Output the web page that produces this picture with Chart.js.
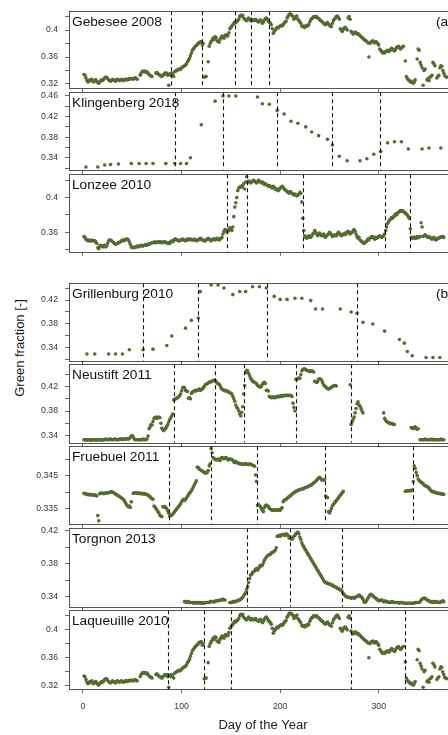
<!DOCTYPE html>
<html>
<head>
<meta charset="utf-8">
<script src="https://cdn.jsdelivr.net/npm/chart.js@4/dist/chart.umd.min.js"></script>
<style>
  html, body { margin: 0; padding: 0; background: #fff; width: 448px; height: 735px; overflow: hidden; position: relative; }
  canvas { position: absolute; left: 0; }
  #ylab { position: absolute; left: 19px; top: 348px; transform: translate(-50%, -50%) rotate(-90deg);
          font: 13px "Liberation Sans", Arial, Helvetica, sans-serif; color: #222; white-space: nowrap; }
</style>
</head>
<body>
<div id="ylab">Green fraction [-]</div>
<script>
// ---- shared x axis ----
const dayTicks = [0, 100, 200, 300];

// ---- Gebesee 2008 (daily green fraction, runs of [first day, values]) ----
const gebeseeRuns = [[1, [
  .334,.333,.329,.325,.323,.324,.326,.325,.327,.324,
  .323,.325,.326,.324,.322,.321,.323,.325,.326,.325,
  .327,.329,.330,.330,.328,.326,.325,.324,.325,.327,
  .326,.325,.324,.326,.327,.326,.325,.326,.327,.326,
  .325,.326,.327,.327,.326,.327,.328,.327,.328,.328,
  .327,.328,.329,.328,.327,null,null,.333,.336,.338,
  .339,.338,.339,.337,.338,.336,.334,.333,.332,.331,
  null,null,null,.336,.337,.335,.334,.333,.332,.331,
  .333,.334,.336,.335,.336,.333,.318,.335,.333,.336,
  .334,.331,.338,.339,.340,.341,.342,.341,.342,.344,
  .345,.346,.347,.348,.350,.353,.355,.358,.362,.366,
  .370,.372,.374,.376,.377,.379,.380,.382,.382,.383,
  .378,.380,.330,.331,.331,null,.353,.376,.380,.383,
  .385,.388,.386,.390,.389,.384,.383,.382,.386,.389,
  .391,.390,.388,.392,.393,.391,.392,.396,.402,.404,
  .406,.408,.410,.412,.411,.413,.414,.416,.420,.422,
  .421,.422,.418,.416,.415,.414,.416,.418,.416,.414,
  .416,.415,.414,.415,.416,.414,.413,.412,.414,.415,
  .413,.410,.412,.415,.417,.418,.416,.413,.412,.410,
  .408,.402,.395,.398,.400,.402,.404,.403,.405,.406,
  .407,.406,.408,.410,.412,.413,.418,.420,.423,.424,
  .423,.422,.420,.416,.418,.420,.421,.416,.414,.412,
  .410,.406,.405,.406,.404,.405,.407,.406,.408,.412,
  .415,.417,.418,.420,.420,.419,.420,.418,.417,.416,
  .414,.413,.412,.410,.409,.408,.410,.411,.409,.407,
  .406,.405,.410,.414,.416,.418,.420,.421,.419,.416,
  .402,.400,.398,.401,.403,.404,.402,.400,.418,.420,
  .416,.398,.396,.394,.395,.397,.396,.394,.395,.393,
  .392,.390,.389,.388,.386,.385,.384,.383,.381,.360,
  .380,.382,.383,.384,.382,.381,.383,.382,.380,.378,
  .372,.370,.368,.366,.367,.366,.368,.369,.370,.368,
  .369,.371,.373,.372,.370,.369,.371,.374,.375,.376,
  .374,.372,.373,.375,.376,null,.354,.331,.328,.326,
  .325,.323,.324,.322,.321,.323,.326,null,.357,.372,
  .370,.352,.348,.344,.318,.340,.342,null,.326,.328,
  .325,.330,.331,.333,.352,.350,.347,null,.329,.331,
  .333,.344,.347,.346,.340,.336,.332,.331,.330
]]];
const gebeseeBreaks = [89, 121, 154, 170, 189];
const gebeseeTicks = [0.32, 0.34, 0.36, 0.38, 0.40, 0.42];
const gebeseeTickLabels = ['0.32', '', '0.36', '', '0.4', ''];

// ---- Klingenberg 2018 (sparse observations) ----
const klingenbergDays = [3,15,22,28,36,49,57,64,71,84,93,99,105,109,120,134,142,148,155,177,
  182,189,197,204,211,218,226,232,239,248,253,260,268,281,288,295,302,309,316,323,330,344,351,363];
const klingenbergGf = [.322,.322,.326,.327,.328,.329,.329,.329,.329,.329,.329,.329,.329,.340,.404,
  .450,.460,.460,.460,.458,.445,.444,.432,.425,.411,.407,.400,.390,.383,.376,.365,.343,.334,.334,
  .338,.347,.352,.369,.371,.371,.357,.357,.359,.359];
const klingenbergBreaks = [93, 142, 197, 253, 301];
const klingenbergTicks = [0.32, 0.34, 0.36, 0.38, 0.40, 0.42, 0.44, 0.46];
const klingenbergTickLabels = ['', '0.34', '', '0.38', '', '0.42', '', '0.46'];

// ---- Lonzee 2010 ----
const lonzeeRuns = [[1, [
  .355,.354,.352,.351,.350,.351,.350,.350,.351,.350,
  .350,.350,.349,.347,.342,.341,.344,.345,.344,.343,
  .344,.345,.343,.344,.347,.350,.351,.351,.350,.349,
  .348,.347,.346,.347,.347,.348,.348,.349,.350,.351,
  .350,.351,.351,.352,.352,.351,.349,.346,.343,.342,
  .343,.342,.343,.343,.344,.343,.344,.344,.345,.344,
  .344,.345,.345,.346,.345,.346,.346,.347,.347,.348,
  .348,.348,.349,.348,.348,.349,.349,.348,.349,.348,
  .348,.349,.349,.348,.348,.347,.348,.347,.349,.350,
  .349,.350,.352,.352,.351,.351,.350,.350,.351,.351,
  .352,.351,.351,.350,.351,.352,.351,.352,.352,.351,
  .351,.351,.352,.351,.350,.351,.351,.352,.353,.352,
  .351,.351,.350,.350,.351,.352,.353,.352,.351,.350,
  .351,.352,.352,.351,.352,.353,.352,.351,.352,.353,
  .354,.358,.361,.363,.362,.360,.361,.363,.365,.364,
  .362,.366,.378,.389,.394,.400,.408,.411,.412,.413,
  .412,.414,.416,.410,.418,.424,.418,.419,.418,.417,
  .418,.419,.420,.419,.418,.417,.418,.420,.419,.418,
  .417,.418,.417,.415,.416,.415,.414,.413,.414,.413,
  .412,.411,.413,.412,.410,.409,.410,.408,.409,.411,
  .412,.413,.412,.410,.409,.408,.407,.406,.405,.407,
  .406,.405,.404,.403,.404,.403,.402,.403,.404,.406,
  .405,.395,.376,.362,.356,.354,.353,.354,.356,.355,
  .354,.356,.358,.359,.362,.360,.358,.356,.357,.359,
  .357,.356,.357,.358,.355,.354,.356,.357,.358,.360,
  .359,.357,.355,.356,.357,.356,.356,.358,.360,.359,
  .357,.356,.357,.358,.357,.359,.358,.360,.361,.360,
  .358,.359,.360,.362,.363,.361,.358,.355,.353,.354,
  .351,.350,.349,.348,.347,.348,.349,.350,.352,.351,
  .353,.354,.355,.355,.353,.352,.354,.353,.354,.355,
  .356,.355,.354,.355,.356,.358,.362,.366,.370,.372,
  .374,.375,.377,.376,.378,.379,.381,.380,.382,.383,
  .384,.385,.384,.385,.384,.383,.382,.381,.380,.378,
  .376,.364,.354,.353,.354,.353,.354,.353,.355,.354,
  .354,.355,.371,.366,.355,.356,.357,.356,.355,.354,
  .355,.354,.353,.352,.353,.354,.352,.351,.352,.353,
  .353,.354,.354,.355,.355,.354
]]];
const lonzeeBreaks = [146, 166, 223, 306, 332];
const lonzeeTicks = [0.34, 0.36, 0.38, 0.40, 0.42];
const lonzeeTickLabels = ['', '0.36', '', '0.4', ''];

// ---- Grillenburg 2010 (sparse observations) ----
const grillenburgDays = [4,12,26,33,40,47,61,71,85,90,104,110,117,119,130,137,143,152,159,165,
  172,179,186,194,200,207,215,222,231,236,243,261,272,278,284,294,306,321,326,329,334,348,355,362];
const grillenburgGf = [.330,.330,.330,.330,.330,.337,.337,.338,.344,.360,.373,.386,.390,.434,.445,
  .445,.440,.429,.434,.434,.442,.442,.440,.426,.421,.421,.423,.423,.419,.405,.405,.405,.400,.398,
  .383,.380,.368,.354,.348,.334,.327,.324,.324,.324];
const grillenburgBreaks = [61, 117, 187, 278];
const grillenburgTicks = [0.32, 0.34, 0.36, 0.38, 0.40, 0.42, 0.44];
const grillenburgTickLabels = ['', '0.34', '', '0.38', '', '0.42', ''];

// ---- Neustift 2011 ----
const neustiftRuns = [[1, [
  .333,.333,.333,.332,.333,.333,.333,.332,.332,.333,
  .333,.333,.332,.332,.333,.333,.333,.333,.332,.333,
  .333,.333,.334,.333,.333,.333,.334,.334,.333,.333,
  .333,.334,.334,.333,.333,.333,.334,.334,.334,.333,
  .334,.334,.334,.334,.335,.334,.335,.337,.339,.340,
  .337,.334,.333,.333,.333,.333,.333,.333,.333,.333,
  .334,.333,.333,.334,.334,.339,.351,.354,.358,.357,
  .363,.368,.369,.370,.368,.369,.370,.369,.360,.352,
  .349,.348,.350,.352,.355,.358,.362,.366,.369,.372,
  .375,.398,.399,.400,.401,.402,.403,.405,.408,.413,
  .418,.419,.418,.414,.413,.412,.401,.402,.400,.409,
  .411,.412,.413,.414,.413,.414,.415,.416,.414,.415,
  .416,.418,.420,.423,.424,.425,.426,.427,.428,.428,
  .429,.430,.431,.430,.428,.426,.425,.424,.422,.418,
  .416,.415,.414,.413,.414,.413,.412,.411,.410,.409,
  .408,.404,.400,.396,.390,.386,.384,.380,.375,.372,
  .378,.387,.408,.422,.443,.447,.446,.442,.438,.434,
  .432,.429,.428,.427,.426,.425,.422,.421,.420,.419,
  .421,.424,.426,.427,.425,.414,.414,.413,.404,.403,
  .402,.403,.402,.403,.402,.403,.404,.403,.404,.404,
  .405,.404,.405,.406,.405,.406,.406,.405,.406,.406,
  .405,.404,.393,.386,.380,.432,.432,.433,.434,.434,
  .440,.446,.448,.449,.449,.448,.447,.446,.446,.445,
  .445,.446,.445,.444,.429,.428,.427,.428,.432,.433,
  .432,.431,.427,.423,.421,.420,.418,.417,.416,.417,
  .418,.419,.420,.421,.422,.422,.421
]], [271, [
  .423,.358,.362,.366,.370,.377,.384,.392,.395,.390,
  .388,.384,.380,.377
]], [305, [
  .377,.368,.365,.363,.362,.361,.360,.359,.360,.359,.358,.358
]], [333, [
  .353,.352,.351,.353,.354,.352,.350,.351
]], [342, [
  .333,.333,.333,.333,.333,.334,.333,.333,.333,
  .333,.333,.333,.334,.333,.333,.333,.333,.333,.333,
  .333,.333,.334,.333,.333,.333
]]];
const neustiftBreaks = [92, 134, 163, 216, 272];
const neustiftTicks = [0.34, 0.36, 0.38, 0.40, 0.42, 0.44];
const neustiftTickLabels = ['0.34', '', '0.38', '', '0.42', ''];

// ---- Fruebuel 2011 ----
const fruebuelRuns = [[1, [
  .3396,.3395,.3394,.3393,.3392,.3393,.3392,.3391,.3392,.3391,
  .3390,.3391,.3390,.3388,.3328,.3312,.3395,.3396,.3397,.3396,
  .3395,.3396,.3397,.3398,.3397,.3398,.3399,.3400,.3401,.3400,
  .3398,.3396,.3394,.3392,.3390,.3388,.3386,.3384,.3382,.3380,
  .3377,.3373,.3368,.3362,.3358,.3355,.3357,.3353,.3370,null,
  .3396,.3397,.3398,.3397,.3396,.3397,.3396,.3395,.3396,.3395,
  .3394,.3395,.3394,.3393,.3392,.3390,.3388,.3386,.3382,.3380,
  .3378,.3357,.3354,.3350,.3346,.3340,.3336,.3330,.3326,.3325,
  .3355,.3354,.3356,.3352,.3349,.3342,.3335,.3326,.3328,.3330,
  .3332,.3336,.3340,.3344,.3348,.3352,.3356,.3360,.3364,.3370,
  .3375,.3378,.3374,.3378,.3382,.3387,.3392,.3396,.3400,.3404,
  .3410,.3416,.3422,.3428,.3434,.3476,.3474,.3470,.3468,.3466,
  .3464,.3462,.3460,.3458,.3458,.3460,.3466,.3480,.3486,.3533,
  .3520,.3505,.3502,.3500,.3498,.3499,.3501,.3498,.3496,.3504,
  .3505,.3503,.3502,.3504,.3505,.3503,.3498,.3500,.3501,.3500,
  .3499,.3497,.3492,.3490,.3494,.3490,.3489,.3488,.3486,.3487,
  .3486,.3485,.3484,.3486,.3487,.3485,.3484,.3484,.3486,.3485,
  .3483,.3482,.3481,.3479,.3452,.3432,.3359,.3362,.3358,.3356,
  .3350,.3344,.3340,.3352,.3358,.3360,.3358,.3356,.3350,.3348,
  .3346,.3344,.3345,.3344,.3346,.3345,.3344,.3346,.3345,.3344,
  .3350,.3352,.3370,.3375,.3376,.3378,.3380,.3383,.3386,.3388,
  .3390,.3393,.3396,.3398,.3400,.3402,.3403,.3405,.3406,.3407,
  .3408,.3409,.3410,.3411,.3413,.3414,.3415,.3416,.3418,.3420,
  .3421,.3422,.3425,.3428,.3430,.3433,.3436,.3440,.3443,.3445,
  .3442,.3438,.3436,.3437,.3438,.3388,.3385,.3383,.3340,.3336,
  .3342,.3350,.3358,.3362,.3366,.3370,.3374,.3378,.3382,.3386,
  .3390,.3394,.3398,.3402
]], [327, [
  .3402,.3403,.3404,.3403,
  .3404,.3405,.3404,.3406,.3432,.3480,.3472,.3460,.3450,.3440,
  .3436,.3432,.3430,.3428,.3425,.3422,.3420,.3418,.3416,.3415,
  .3412,.3408,.3404,.3402,.3401,.3400,.3399,.3398,.3397,.3396,
  .3396,.3395,.3395,.3394,.3394,.3393
]]];
const fruebuelBreaks = [87, 130, 177, 245, 335];
const fruebuelTicks = [0.335, 0.34, 0.345, 0.35];
const fruebuelTickLabels = ['0.335', '', '0.345', ''];

// ---- Torgnon 2013 ----
const torgnonRuns = [[103, [
  .334,.334,.333,.334,.334,.333,.333,.333,.333,.332,
  .333,.333,.332,.333,.333,.332,.333,.332,.333,.332,
  .332,.333,.333,.333,.333,.333,.334,.334,.334,.334,
  .334,.334,.335,.335,.335,.335,.336,.336,.336,.337,
  .336,.336
]], [149, [
  .333,.333,.333,.334,
  .334,.334,.334,.335,.335,.336,.336,.337,.338,.339,
  .341,.343,.345,.349,.352,.357,.362,.366,.367,.369,
  .370,.371,.373,.374,.372,.374,.376,.378,.377,.378,
  .381,.384,.386,.388,.389,.390,.391,.391,.393,.393,
  .394,.395,.396,.399,.413,.413,.414,.413,.414,.415,
  .415,.415,.414,.416,.415,.414,.411,.412,.410,.409,
  .411,.413,.414,.416,.417,.418,.416,.412,.409,.405,
  .402,.400,.398,.396,.394,.392,.390,.388,.386,.384,
  .382,.380,.378,.376,.374,.372,.370,.368,.366,.364,
  .362,.360,.358,.357,.357,.356,.356,.355,.355,.354,
  .354,.353,.352,.352,.351,.350,.350,.349,.348,.348,
  .346,.344,.342,.341,.340,.340,.339,.339,.339,.338,
  .339,.339,.338,.339,.340,.340,.341,.342,.341,.340,
  .339,.337,.334,.333,.334,.336,.338,.340,.342,.343,
  .342,.341,.340,.339,.338,.337,.336,.335,.335,.336,
  .336,.335,.334,.335,.334,.334,.334,.333,.333,.333,
  .334,.334,.333,.333,.333,.333,.333,.333,.332,.333,
  .333,.333,.332,.332,.332,.332,.332,.332,.332,.332,
  .332,.332,.332,.332,.333,.333,.333,.333,.333,.334,
  .336,.337,.338,.338,.338,.337,.336,.335,.335,.334,
  .334,.333,.334,.334,.333,.334,.334,.333,.333,.333,
  .334,.334,.335,.334
]]];
const torgnonBreaks = [166, 210, 263];
const torgnonTicks = [0.34, 0.36, 0.38, 0.40, 0.42];
const torgnonTickLabels = ['0.34', '', '0.38', '', '0.42'];

// ---- Laqueuille 2010 (same series as the Gebesee record) ----
const laqueuilleRuns = gebeseeRuns;
const laqueuilleBreaks = [86, 123, 150, 272, 327];
const laqueuilleTicks = gebeseeTicks;
const laqueuilleTickLabels = gebeseeTickLabels;

// ---- helpers ----
function runsToPoints(runs) {
  const pts = [];
  runs.forEach(([first, vals]) => vals.forEach((v, i) => {
    if (v !== null) pts.push({ x: first + i, y: v });
  }));
  return pts;
}
function pairsToPoints(days, vals) {
  return days.map((d, i) => ({ x: d, y: vals[i] }));
}

const FONT = '"Liberation Sans", Arial, Helvetica, sans-serif';
const PAGE_W = 470;      // canvas runs past the right window edge
const PLOT_LEFT = 69;
const PLOT_RIGHT = 457;
const X_MIN = -14.2, X_MAX = 379.4;

// panel frames: pixel top/bottom of each plot box and the y range shown
const panels = [
  { title: 'Gebesee 2008', tag: '(a)', top: 9.3, bottom: 90, yMin: 0.3143, yMax: 0.428,
    points: runsToPoints(gebeseeRuns), breaks: gebeseeBreaks, ticks: gebeseeTicks, labels: gebeseeTickLabels },
  { title: 'Klingenberg 2018', top: 90, bottom: 172, yMin: 0.3167, yMax: 0.4673,
    points: pairsToPoints(klingenbergDays, klingenbergGf), breaks: klingenbergBreaks, ticks: klingenbergTicks, labels: klingenbergTickLabels },
  { title: 'Lonzee 2010', top: 172, bottom: 254, yMin: 0.3374, yMax: 0.427,
    points: runsToPoints(lonzeeRuns), breaks: lonzeeBreaks, ticks: lonzeeTicks, labels: lonzeeTickLabels },
  { title: 'Grillenburg 2010', tag: '(b)', top: 281.7, bottom: 362.7, yMin: 0.3186, yMax: 0.448,
    points: pairsToPoints(grillenburgDays, grillenburgGf), breaks: grillenburgBreaks, ticks: grillenburgTicks, labels: grillenburgTickLabels },
  { title: 'Neustift 2011', top: 362.7, bottom: 444.3, yMin: 0.328, yMax: 0.4568,
    points: runsToPoints(neustiftRuns), breaks: neustiftBreaks, ticks: neustiftTicks, labels: neustiftTickLabels },
  { title: 'Fruebuel 2011', top: 444.3, bottom: 526, yMin: 0.3303, yMax: 0.354,
    points: runsToPoints(fruebuelRuns), breaks: fruebuelBreaks, ticks: fruebuelTicks, labels: fruebuelTickLabels },
  { title: 'Torgnon 2013', top: 526, bottom: 608.3, yMin: 0.3278, yMax: 0.4227,
    points: runsToPoints(torgnonRuns), breaks: torgnonBreaks, ticks: torgnonTicks, labels: torgnonTickLabels },
  { title: 'Laqueuille 2010', top: 608.3, bottom: 689, yMin: 0.3154, yMax: 0.4279,
    points: runsToPoints(laqueuilleRuns), breaks: laqueuilleBreaks, ticks: laqueuilleTicks, labels: laqueuilleTickLabels }
];

// frame, dashed period boundaries, site name and group tag
const panelDecor = {
  id: 'panelDecor',
  afterDatasetsDraw(chart, args, opts) {
    const { ctx, chartArea: a } = chart;
    const x = chart.scales.x;
    ctx.save();
    ctx.beginPath();
    ctx.rect(a.left, a.top, a.right - a.left, a.bottom - a.top);
    ctx.clip();
    ctx.strokeStyle = '#111';
    ctx.lineWidth = 1.1;
    ctx.setLineDash([4, 3]);
    opts.breaks.forEach(d => {
      const px = Math.round(x.getPixelForValue(d)) + 0.5;
      ctx.beginPath();
      ctx.moveTo(px, a.top);
      ctx.lineTo(px, a.bottom);
      ctx.stroke();
    });
    ctx.restore();

    ctx.save();
    ctx.strokeStyle = '#555';
    ctx.lineWidth = 1;
    ctx.strokeRect(Math.round(a.left) + 0.5, Math.round(a.top) + 0.5,
                   Math.round(a.right - a.left), Math.round(a.bottom - a.top));
    ctx.fillStyle = '#111';
    ctx.font = '13.7px ' + FONT;
    ctx.textBaseline = 'alphabetic';
    ctx.textAlign = 'left';
    ctx.fillText(opts.title, a.left + 3, a.top + 14.8);
    if (opts.tag) ctx.fillText(opts.tag, 436, a.top + 14.8);
    ctx.restore();
  }
};

panels.forEach((p, idx) => {
  const isLast = idx === panels.length - 1;
  const canvasTop = Math.floor(p.top) - 10;
  const padTop = p.top - canvasTop;
  const plotH = p.bottom - p.top;
  const xAxisH = isLast ? (735 - p.bottom) : 10;
  const H = Math.ceil(padTop + plotH + xAxisH);
  const axisH = H - padTop - plotH;

  const c = document.createElement('canvas');
  c.width = PAGE_W; c.height = H;
  c.style.width = PAGE_W + 'px'; c.style.height = H + 'px';
  c.style.top = canvasTop + 'px';
  document.body.appendChild(c);

  new Chart(c, {
    type: 'scatter',
    data: {
      datasets: [{
        data: p.points,
        pointRadius: 1.8,
        pointHoverRadius: 1.8,
        pointBorderWidth: 0,
        backgroundColor: '#556b2f',
        pointBackgroundColor: '#556b2f'
      }]
    },
    options: {
      responsive: false,
      animation: false,
      devicePixelRatio: 1,
      events: [],
      layout: { padding: { left: 0, right: PAGE_W - PLOT_RIGHT, top: padTop, bottom: 0 } },
      plugins: {
        legend: { display: false },
        tooltip: { enabled: false },
        panelDecor: { breaks: p.breaks, title: p.title, tag: p.tag }
      },
      scales: {
        x: {
          type: 'linear', min: X_MIN, max: X_MAX,
          afterBuildTicks: s => { s.ticks = dayTicks.map(v => ({ value: v })); },
          afterFit: s => { s.height = axisH; },
          border: { display: false },
          grid: { drawOnChartArea: false, drawTicks: true, tickLength: 4, color: '#666', lineWidth: 1 },
          ticks: {
            display: isLast, autoSkip: false, maxRotation: 0, padding: 8,
            color: '#333', font: { family: FONT, size: 8.7 },
            callback: v => String(v)
          },
          title: {
            display: isLast, text: 'Day of the Year', color: '#222',
            font: { family: FONT, size: 13 }, padding: { top: 0, bottom: 1.5 }
          }
        },
        y: {
          type: 'linear', min: p.yMin, max: p.yMax,
          afterBuildTicks: s => { s.ticks = p.ticks.map(v => ({ value: v })); },
          afterFit: s => { s.width = PLOT_LEFT; },
          border: { display: false },
          grid: { drawOnChartArea: false, drawTicks: true, tickLength: 4, color: '#666', lineWidth: 1 },
          ticks: {
            autoSkip: false, padding: 7, color: '#333', font: { family: FONT, size: 8.7 },
            callback: v => {
              const i = p.ticks.findIndex(t => Math.abs(t - v) < 1e-9);
              return i >= 0 ? p.labels[i] : '';
            }
          }
        }
      }
    },
    plugins: [panelDecor]
  });
});
</script>
</body>
</html>
